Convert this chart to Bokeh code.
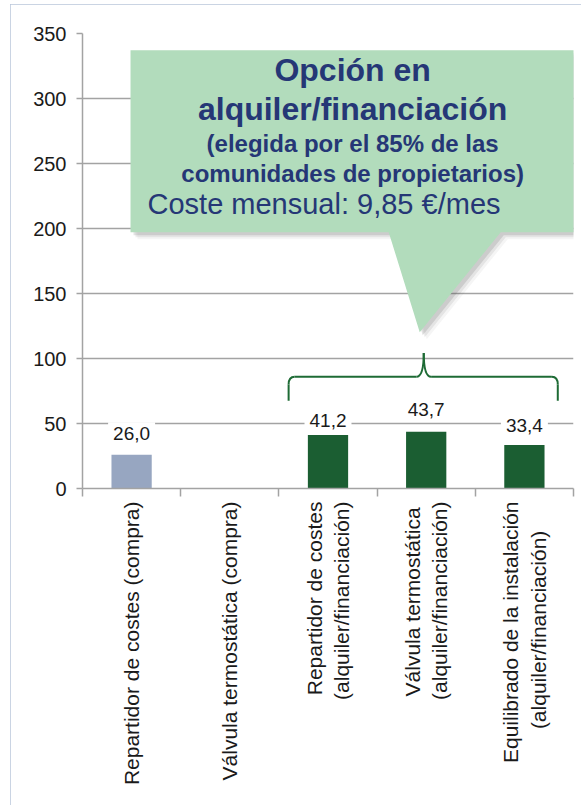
import math
from bokeh.plotting import figure
from bokeh.models import Range1d, FixedTicker, PolyAnnotation
from bokeh.core.properties import value
from bokeh.embed import file_html
from bokeh.resources import INLINE

# ---------------- data ----------------
NB = "\u00a0"
categories = [
    "Repartidor de costes (compra)",
    "Válvula termostática (compra)",
    "Repartidor de costes\n(alquiler/financiación)",
    "Válvula termostática" + NB + "\n(alquiler/financiación)",
    "Equilibrado de la instalación\n(alquiler/financiación)" + NB * 5,
]
values = [26.0, float("nan"), 41.2, 43.7, 33.4]
bar_colors = ["#97a6c1", "#97a6c1", "#1b5e32", "#1b5e32", "#1b5e32"]
label_dy = [-21, 0, -14, -22, -20]          # label offsets (px, style)
y_ticks = [0, 50, 100, 150, 200, 250, 300, 350]

callout_title = ["Opción en", "alquiler/financiación"]
callout_sub = ["(elegida por el 85% de las", "comunidades de propietarios)"]
callout_cost = "Coste mensual: 9,85 €/mes"

FONT = "Liberation Sans"
NAVY = "#253776"
GRID = "#a3a3a3"

xs = [i + 0.5 for i in range(len(categories))]
labels = ["" if math.isnan(v) else f"{v:.1f}".replace(".", ",") for v in values]

p = figure(width=571, height=801, x_range=Range1d(0, 5), y_range=Range1d(0, 350),
           output_backend="svg", toolbar_location=None,
           min_border_left=72, min_border_right=8, min_border_top=29, min_border_bottom=317)
p.outline_line_color = None
p.background_fill_color = "white"
p.border_fill_color = "white"
p.styles = {"outline": "2px solid #b9c6da", "outline-offset": "-2px",
            "margin-left": "10px", "margin-top": "4px"}

# x axis
p.xaxis.ticker = FixedTicker(ticks=xs, minor_ticks=list(range(len(categories) + 1)))
p.xaxis.major_label_overrides = {x: c for x, c in zip(xs, categories)}
p.xaxis.major_tick_out = 0
p.xaxis.major_tick_in = 0
p.xaxis.minor_tick_out = 8
p.xaxis.minor_tick_in = 0
p.xaxis.minor_tick_line_color = GRID
p.xaxis.minor_tick_line_width = 1.5
p.xaxis.axis_line_color = GRID
p.xaxis.axis_line_width = 1.5
p.xaxis.major_label_orientation = math.pi / 2
p.xaxis.major_label_text_font = FONT
p.xaxis.major_label_text_font_size = "21px"
p.xaxis.major_label_text_color = "#1a1a1a"
p.xaxis.major_label_standoff = 5

# y axis
p.yaxis.ticker = FixedTicker(ticks=y_ticks)
p.yaxis.major_tick_out = 6
p.yaxis.major_tick_in = 0
p.yaxis.minor_tick_out = 0
p.yaxis.minor_tick_in = 0
p.yaxis.major_tick_line_color = GRID
p.yaxis.major_tick_line_width = 1.5
p.yaxis.axis_line_color = GRID
p.yaxis.axis_line_width = 1.5
p.yaxis.major_label_text_font = FONT
p.yaxis.major_label_text_font_size = "20px"
p.yaxis.major_label_text_color = "#1a1a1a"
p.yaxis.major_label_standoff = 10

p.xgrid.visible = False
p.ygrid.ticker = FixedTicker(ticks=y_ticks)
p.ygrid.grid_line_color = GRID
p.ygrid.grid_line_width = 1.5

# bars
p.vbar(x=xs, top=values, width=0.41, color=bar_colors, line_color=None)

# data labels
p.text(x=xs, y=[0 if math.isnan(v) else v for v in values], text=labels, y_offset=label_dy,
       text_align="center", text_baseline="middle", text_font=value(FONT),
       text_font_size="19px", text_color="#1a1a1a",
       background_fill_color="white", padding=5)

# brace
BR = "#1e6b35"
p.segment(x0=[2.099, 2.16, 3.55, 4.84], y0=[67.5, 86, 86, 67.5],
          x1=[2.099, 3.40, 4.78, 4.84], y1=[80, 86, 86, 80], line_color=BR, line_width=2)
p.quadratic(x0=[2.099, 3.40, 3.475, 4.78], y0=[80, 86, 104.3, 86],
            x1=[2.16, 3.475, 3.55, 4.84], y1=[86, 104.3, 86, 80],
            cx=[2.099, 3.475, 3.475, 4.84], cy=[86, 86, 86, 86], line_color=BR, line_width=2)

# callout
cx = [0.489, 5.02, 5.02, 4.259, 3.434, 3.118, 0.489]
cy = [337.2, 337.2, 197.2, 197.2, 120.2, 197.2, 197.2]
for d, a in [(7, 0.06), (5, 0.10), (3, 0.16)]:
    p.add_layout(PolyAnnotation(xs=[x + d / 98.14 for x in cx], ys=[y - d / 1.3 for y in cy],
                                fill_color="#505050", fill_alpha=a, line_color=None))
p.add_layout(PolyAnnotation(xs=cx, ys=cy, fill_color="#b2dcbc", fill_alpha=1.0, line_color=None))

p.text(x=[2.751, 2.751], y=[321.8, 292.0], text=callout_title, text_align="center",
       text_baseline="middle", text_font=value(FONT), text_font_style="bold",
       text_font_size="32px", text_color=NAVY, level="overlay")
p.text(x=[2.751, 2.751], y=[265.6, 242.5], text=callout_sub, text_align="center",
       text_baseline="middle", text_font=value(FONT), text_font_style="bold",
       text_font_size="24px", text_color=NAVY, level="overlay")
p.text(x=[0.662], y=[218.7], text=[callout_cost], text_align="left",
       text_baseline="middle", text_font=value(FONT),
       text_font_size="29px", text_color=NAVY, level="overlay")

open("out.html", "w").write(file_html(p, INLINE))
